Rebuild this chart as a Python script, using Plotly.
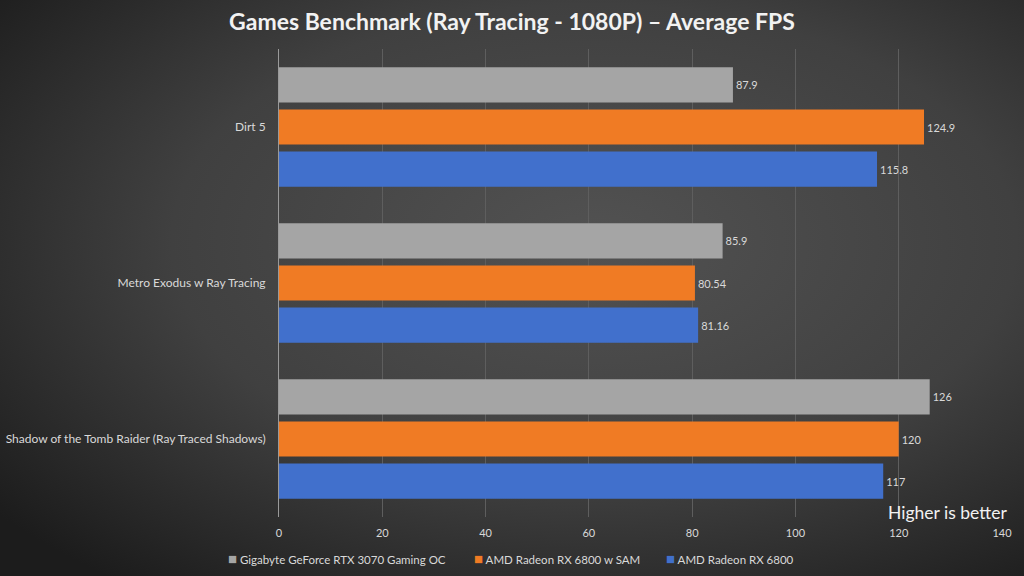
import base64
import plotly.graph_objects as go

games = ["Dirt 5", "Metro Exodus w Ray Tracing", "Shadow of the Tomb Raider (Ray Traced Shadows)"]
series_names = ["Gigabyte GeForce RTX 3070 Gaming OC", "AMD Radeon RX 6800 w SAM", "AMD Radeon RX 6800"]
rtx3070 = [87.9, 85.9, 126]
rx6800_sam = [124.9, 80.54, 120]
rx6800 = [115.8, 81.16, 117]
x_ticks = [0, 20, 40, 60, 80, 100, 120, 140]

colors = ["#a5a5a5", "#f07b24", "#4170cc"]
series = [rtx3070, rx6800_sam, rx6800]

W, H = 1024, 576
L, R, T, B = 279, 22, 49, 59
pw, ph = W - L - R, H - T - B

svg = f'''<svg xmlns="http://www.w3.org/2000/svg" width="{W}" height="{H}">
<defs><radialGradient id="g" cx="58%" cy="42%" r="75%">
<stop offset="0%" stop-color="#525252"/><stop offset="55%" stop-color="#404040"/><stop offset="100%" stop-color="#1c1c1c"/>
</radialGradient></defs><rect width="{W}" height="{H}" fill="url(#g)"/></svg>'''
bg_uri = "data:image/svg+xml;base64," + base64.b64encode(svg.encode()).decode()

fig = go.Figure()
for name, vals, col in zip(series_names, series, colors):
    fig.add_trace(go.Bar(
        y=games, x=vals, name=name, orientation="h",
        marker=dict(color=col, line=dict(width=0)),
        text=[f"{v:g}" for v in vals], textposition="outside",
        textfont=dict(color="#d9d9d9", size=11, family="Lato"),
        cliponaxis=False, showlegend=False,
    ))

# legend row drawn as text with coloured squares
legend_x = [226, 472, 664]
legend_ann = [dict(text=f'<span style="color:{c};font-size:15px">■</span> {n}', xref="paper", yref="paper",
                   x=(lx - L) / pw, y=(H - B - 558) / ph, xanchor="left", yanchor="middle",
                   showarrow=False, font=dict(family="Lato", size=11.5, color="#d9d9d9"))
              for n, c, lx in zip(series_names, colors, legend_x)]

fig.update_layout(
    width=W, height=H,
    margin=dict(l=L, r=R, t=T, b=B, autoexpand=False),
    paper_bgcolor="#3a3a3a", plot_bgcolor="rgba(0,0,0,0)",
    barmode="group", bargap=0.19, bargroupgap=0.167,
    title=dict(text="Games Benchmark (Ray Tracing - 1080P) – Average FPS",
               x=0.5, xanchor="center", xref="paper", y=1 - 22 / H, yanchor="middle",
               font=dict(family="Lato", size=23, color="#f2f2f2", weight="bold")),
    font=dict(family="Lato", color="#d9d9d9", size=11),
    xaxis=dict(range=[0, 140], tickvals=x_ticks, showgrid=True, gridcolor="#5e5e5e",
               gridwidth=1, zeroline=False, showline=False, ticks="", automargin=False,
               tickfont=dict(color="#d9d9d9", size=11), ticklabelstandoff=8),
    yaxis=dict(autorange="reversed", showgrid=False, showline=True, linecolor="#9a9a9a",
               linewidth=1, ticks="", automargin=False, tickfont=dict(color="#d9d9d9", size=12),
               ticklabelstandoff=10),
    showlegend=False,
    annotations=[dict(text="Higher is better", xref="paper", yref="paper",
                      x=(947 - L) / pw, y=(H - B - 512) / ph, xanchor="center",
                      yanchor="middle", showarrow=False,
                      font=dict(family="Lato", size=17.5, color="#f2f2f2"))] + legend_ann,
    images=[dict(source=bg_uri, xref="paper", yref="paper",
                 x=-L / pw, y=1 + T / ph, sizex=W / pw, sizey=H / ph,
                 xanchor="left", yanchor="top", sizing="stretch", layer="below")],
)
# center title on the page
fig.update_layout(title=dict(x=(512 - L) / pw))

fig.write_html("out.html", config={"displayModeBar": False},
               post_script="document.body.style.margin='0';document.body.style.overflow='hidden';")
